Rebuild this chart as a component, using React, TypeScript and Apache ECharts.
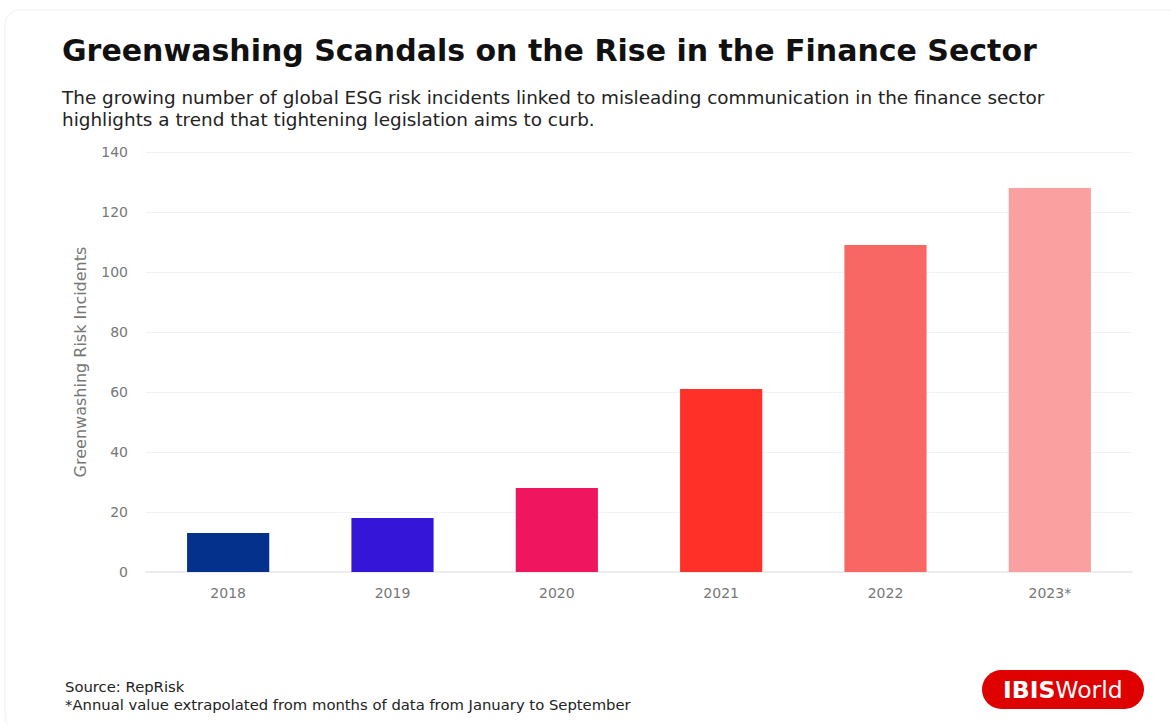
import React, { useEffect, useRef } from "react";
import * as echarts from "echarts";

const categories = ["2018", "2019", "2020", "2021", "2022", "2023*"];
const values = [13, 18, 28, 61, 109, 128];
const barColors = ["#03318C", "#3516D9", "#F0155F", "#FF3027", "#F96765", "#FBA0A0"];
const yTicks = { min: 0, max: 140, interval: 20 };

const titleText = "Greenwashing Scandals on the Rise in the Finance Sector";
const subtitleText =
  "The growing number of global ESG risk incidents linked to misleading communication in the finance sector\nhighlights a trend that tightening legislation aims to curb.";
const sourceText = "Source: RepRisk";
const noteText = "*Annual value extrapolated from months of data from January to September";

export default function App() {
  const ref = useRef<HTMLDivElement>(null);
  useEffect(() => {
    document.body.style.margin = "0";
    const chart = echarts.init(ref.current!, undefined, { renderer: "svg" });
    const font = "'DejaVu Sans', sans-serif";
    chart.setOption({
      animation: false,
      backgroundColor: "#ffffff",
      title: [
        {
          text: titleText,
          left: 57,
          top: 30,
          textStyle: { fontFamily: font, fontSize: 30, fontWeight: "bold", color: "#111111" },
        },
        {
          text: subtitleText,
          left: 57,
          top: 81,
          textStyle: { fontFamily: font, fontSize: 18.4, fontWeight: "normal", color: "#222222", lineHeight: 22 },
        },
      ],
      grid: { left: 146, right: 39, top: 152, bottom: 153, containLabel: false },
      xAxis: {
        type: "category",
        data: categories,
        axisLine: { show: true, lineStyle: { color: "#e8e8ee", width: 1.5 } },
        axisTick: { show: false },
        axisLabel: { color: "#777777", fontFamily: font, fontSize: 14, margin: 14 },
      },
      yAxis: {
        type: "value",
        min: yTicks.min,
        max: yTicks.max,
        interval: yTicks.interval,
        name: "Greenwashing Risk Incidents",
        nameLocation: "middle",
        nameGap: 58,
        nameTextStyle: { color: "#777777", fontFamily: font, fontSize: 16 },
        axisLine: { show: false },
        axisTick: { show: false },
        axisLabel: { color: "#777777", fontFamily: font, fontSize: 14, margin: 18 },
        splitLine: { lineStyle: { color: "#f2f2f7", width: 1 } },
      },
      series: [
        {
          type: "bar",
          barWidth: "50%",
          data: values.map((v, i) => ({ value: v, itemStyle: { color: barColors[i] } })),
        },
      ],
      graphic: [
        {
          type: "rect",
          shape: { x: 5, y: 10, width: 1180, height: 720, r: 14 },
          style: { fill: "none", stroke: "#f0f0f0", lineWidth: 1 },
          silent: true,
        },
        {
          type: "text",
          left: 65,
          top: 679,
          style: { text: sourceText, fontFamily: font, fontSize: 14.8, fill: "#222222" },
        },
        {
          type: "text",
          left: 65,
          top: 697,
          style: { text: noteText, fontFamily: font, fontSize: 14.8, fill: "#222222" },
        },
        {
          type: "rect",
          shape: { x: 982, y: 670, width: 162, height: 39, r: 19.5 },
          style: { fill: "#DF0000" },
        },
        {
          type: "text",
          x: 1003,
          y: 690,
          style: {
            text: "{b|IBIS}{r|World}",
            verticalAlign: "middle",
            rich: {
              b: { fontFamily: font, fontSize: 23.5, fontWeight: "bold", fill: "#ffffff" },
              r: { fontFamily: font, fontSize: 23.5, fontWeight: "normal", fill: "#ffffff" },
            },
          },
        },
      ],
    });
    return () => chart.dispose();
  }, []);
  return <div ref={ref} style={{ width: 1171, height: 725 }} />;
}
